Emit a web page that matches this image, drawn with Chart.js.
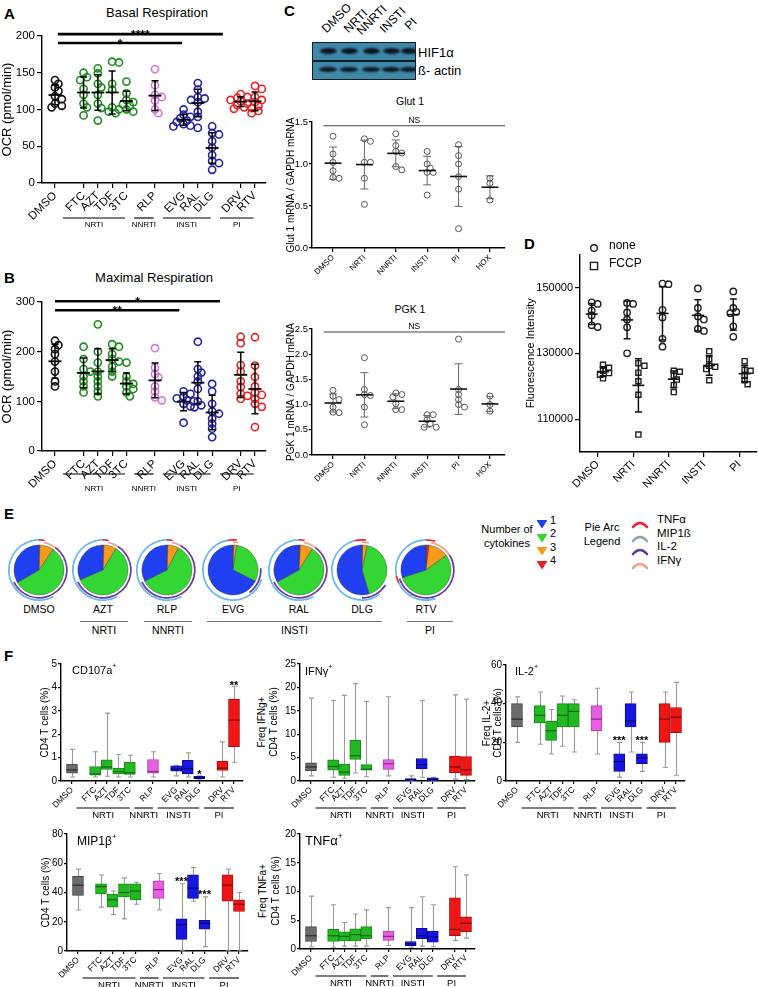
<!DOCTYPE html>
<html><head><meta charset="utf-8"><title>Figure</title>
<script src="https://cdn.jsdelivr.net/npm/chart.js@4.4.1/dist/chart.umd.min.js"></script>
<style>
html,body{margin:0;padding:0;background:#fff;}
body{width:758px;height:987px;position:relative;overflow:hidden;font-family:'Liberation Sans',Arial,Helvetica,sans-serif;color:#000;}
canvas.c{position:absolute;}
.t{position:absolute;white-space:nowrap;line-height:1;}
sup{font-size:65%;vertical-align:top;position:relative;top:-2px;}
</style></head><body>
<script>
// ================= DATA =================
const drugs = ['DMSO','FTC','AZT','TDF','3TC','RLP','EVG','RAL','DLG','DRV','RTV'];
const drugClass = ['DMSO','NRTI','NRTI','NRTI','NRTI','NNRTI','INSTI','INSTI','INSTI','PI','PI'];
const classGroups = ['NRTI','NNRTI','INSTI','PI'];

// Panel A: basal respiration OCR (pmol/min), one array per drug
const basalOCR = [
  [140,135,130,125,118,114,108,105,103],
  [150,144,140,128,120,108,103,92],
  [156,149,135,130,120,108,102,85],
  [165,164,135,127,103,100,97,95],
  [138,122,113,110,107,105,100,97],
  [155,133,120,117,112,100,95],
  [100,93,90,88,85,83,80,78,77],
  [136,127,117,115,113,110,97,90,75],
  [77,68,66,57,48,38,30,27,18],
  [121,117,116,113,111,108,106,103,101],
  [132,128,117,113,110,105,102,98,95]
];
// Panel B: maximal respiration OCR (pmol/min)
const maximalOCR = [
  [222,213,205,195,180,160,140,130],
  [210,185,165,160,150,140,130,118],
  [255,200,178,160,150,140,130,120,110],
  [215,210,195,185,180,170,160,150],
  [178,150,140,135,130,125,118,110],
  [207,168,155,148,130,120,108,102],
  [120,115,110,106,102,100,95,90,57],
  [220,165,158,150,140,125,100,92,88],
  [135,120,95,80,75,65,55,45,28],
  [230,217,173,160,140,129,115,111,105],
  [229,172,149,130,118,113,105,95,89,48]
];
// significance bars (x in slot units, y in data units)
const sigBasal = [{x0:0.2,x1:11.75,y:202.5,text:'****'},{x0:0.2,x1:8.9,y:190.5,text:'*'}];
const sigMaximal = [{x0:0.0,x1:11.55,y:301.5,text:'*'},{x0:0.0,x1:8.7,y:283.5,text:'**'}];

// Panel C
const blotLanes = ['DMSO','NRTI','NNRTI','INSTI','PI'];
const blotRows = ['HIF1\u03b1','\u00df- actin'];
const mrnaGroups = ['DMSO','NRTI','NNRTI','INSTI','PI','HOX'];
const glut1 = [[1.33,1.12,1.02,0.92,0.84,0.83],[1.30,1.27,1.02,1.02,0.83,0.52],[1.36,1.22,1.15,1.13,0.97,0.93],[1.15,1.0,0.95,0.9,0.9,0.63],[1.23,1.1,1.0,0.85,0.7,0.23],[0.83,0.77,0.57]];
const pgk1 = [[1.28,1.17,1.1,0.95,0.85,0.84],[1.93,1.3,1.2,0.95,0.6,1.18],[1.23,1.2,1.15,1.02,0.9,0.9],[0.8,0.8,0.7,0.62,0.55,0.55],[2.3,1.3,1.2,1.1,1.0,0.95],[1.17,1.0,0.87]];
const nsGlut = [{x0:-0.3,x1:5.48,y:1.455,text:'NS'}];
const nsPgk = [{x0:-0.3,x1:5.48,y:2.44,text:'NS'}];

// Panel D
const dGroups = ['DMSO','NRTI','NNRTI','INSTI','PI'];
const dSeries = ['none','FCCP'];
const dNone = [[145500,145000,141500,138500,138000,143000],[145300,145000,142400,140300,137900,130000],[151200,151000,143200,140900,134400,132000],[149700,143800,141200,140300,137400,136800],[148800,143800,142600,138200,135000,142200]];
const dFCCP = [[126500,125600,124700,123500,122400,124000],[127000,126200,124100,121500,117400,105300],[124700,124400,123200,120300,118200,122000],[130600,128200,126200,125900,121800,125200],[127600,125000,124700,123200,121800,120600]];
const dTicks = [110000,130000,150000];

// Panel E: % of cells with 1,2,3,4 cytokines
const pieLabels = ['DMSO','AZT','RLP','EVG','RAL','DLG','RTV'];
const cytokineCounts = ['1','2','3','4'];
const pieShares = [[33.4,57,9,0.6],[31.4,60,8,0.6],[32.4,60,7,0.6],[67.6,30,2,0.4],[33,58,8,1],[54.6,42,3,0.4],[30,55,13,2]];
const arcNames = ['TNF\u03b1','MIP1\u00df','IL-2','IFN\u03b3'];
// arcs: [start%, end%, cytokine index] for outer and inner ring
const pieArcsOuter = [
  [[0,3,0],[42,100,1]],[[0,3,0],[42,100,1]],[[0,3,0],[42,100,1]],[[97,100,0],[0,2,0],[30,97,1]],[[0,3,0],[42,100,1]],[[96,100,0],[0,2,0],[40,96,1]],[[0,5,0],[45,68,1],[68,72,0],[72,100,1]]
];
const pieArcsInner = [
  [[3,10,3],[10,68,2]],[[3,9,3],[9,68,2]],[[3,8,3],[8,68,2]],[[0,3,3],[24,40,2]],[[3,10,3],[10,68,2]],[[0,4,3],[34,50,2]],[[3,16,3],[16,70,2]]
];

// Panel F: box stats [min, q1, median, q3, max] per drug
const cd107a = [[0.17,0.33,0.47,0.72,1.35],[0.17,0.25,0.3,0.62,1.25],[0.2,0.5,0.6,0.9,2.9],[0.17,0.3,0.4,0.55,1.13],[0.17,0.28,0.35,0.8,1.1],[0.17,0.33,0.4,0.92,1.25],[0.22,0.42,0.52,0.65,0.67],[0.17,0.3,0.52,0.88,1.2],[0.08,0.1,0.14,0.2,0.22],[0.17,0.45,0.55,0.85,1.67],[0.8,1.47,2.6,3.5,4.05]];
const ifng = [[1.1,2.2,3.0,3.9,17.7],[0.8,2.3,3.1,4.5,17.2],[0.6,1.2,1.9,3.6,18.3],[1.7,4.6,5.4,8.7,20.8],[0.9,2.3,2.5,3.5,17],[1.1,2.5,3.7,4.6,18],[0.05,0.1,0.3,0.5,1.1],[0.8,2.6,3.5,4.8,17.2],[0.05,0.1,0.3,0.7,0.8],[0.4,1.8,3.0,5.3,18.4],[0.3,1.2,2.4,5.2,17.5]];
const il2 = [[20,28,32,40,43.5],[19,30,34,39,46],[14,21,26,31,37],[18,28,34,40,44],[15,28,36,40,42],[14,26,32,39,48],[2,5,10,14,20],[15,28,31,40,46],[5,9,12,14,20],[7,20,32,40,46],[3,25,33,38,51]];
const mip1b = [[28,38,45,51,56],[30,39,44,46,52],[25,30,35,39,41],[22,37,40,46,50],[32,35,41,46,47],[28,36,42,48,53],[0.5,8,18,22,46],[34,36,43,52,57],[3,15,19,21,37],[0.5,34,45,52,56],[0.5,27,32,35,40]];
const tnfa = [[0.4,1.3,2.3,3.9,9.2],[0.3,1.3,2.3,3.4,7.7],[0.5,1.4,2.2,3.0,4.6],[0.5,1.4,2.5,3.5,6.1],[0.5,1.8,2.3,3.9,6.8],[0.6,1.5,2.2,3.1,7.2],[0.3,0.6,0.9,1.3,7.2],[0.5,1.8,2.3,3.6,9.1],[0.4,1.2,2.1,3.1,7.7],[1.5,2.3,3.4,8.9,14.3],[1.9,3.0,4.5,5.6,12.9]];
const sigCD107a = [{drug:'DLG',y:0.3,text:'*'},{drug:'RTV',y:4.12,text:'**'}];
const sigIFNg = [];
const sigIL2 = [{drug:'EVG',y:21,text:'***'},{drug:'DLG',y:21,text:'***'}];
const sigMIP1b = [{drug:'EVG',y:48,text:'***'},{drug:'DLG',y:39,text:'***'}];
const sigTNFa = [];

// ================= STYLE / HELPERS =================
const FONT = "'Liberation Sans', Arial, Helvetica, sans-serif";
Chart.defaults.font.family = FONT;
Chart.defaults.color = '#000';
Chart.defaults.animation = false;
Chart.defaults.responsive = false;
Chart.defaults.maintainAspectRatio = false;
Chart.defaults.events = [];
Chart.defaults.plugins.legend.display = false;
Chart.defaults.plugins.tooltip.enabled = false;

const scatterColor = {DMSO:'#111111', NRTI:'#1e8c1e', NNRTI:'#d676d6', INSTI:'#23239f', PI:'#e32424'};
const boxFill = {DMSO:'#6b6b6b', NRTI:'#22b822', NNRTI:'#e85ee0', INSTI:'#1616e0', PI:'#f01616'};
const boxEdge = {DMSO:'#454545', NRTI:'#178a17', NNRTI:'#b040b0', INSTI:'#0c0c99', PI:'#a80c0c'};
const boxMed = {DMSO:'#222', NRTI:'#0d5e0d', NNRTI:'#7a2878', INSTI:'#000066', PI:'#700000'};
const cytoColor = ['#1f3ff0','#33d633','#f59a1a','#e52020'];
const arcColor = ['#e8262a','#66b8ea','#6b3a9b','#f2a27e'];
const arcLegendColor = ['#e8262a','#8ea3b8','#6b3a9b','#f2a27e'];

const mean = a => a.reduce((s,v)=>s+v,0)/a.length;
const sd = a => { const m=mean(a); return Math.sqrt(a.reduce((s,v)=>s+(v-m)*(v-m),0)/(a.length-1)); };

function slotsFor(cls){ const s=[]; let p=0; cls.forEach((c,i)=>{ if(i>0) p += (c===cls[i-1]?1:2); s.push(p); }); return s; }
const drugSlots = slotsFor(drugClass);
const slotOf = d => drugSlots[drugs.indexOf(d)];
const groupSpans = classGroups.map(g=>{ const idx=drugClass.map((c,i)=>c===g?i:-1).filter(i=>i>=0); return {name:g, first:drugSlots[idx[0]], last:drugSlots[idx[idx.length-1]]}; });

// deterministic beeswarm offsets (px) for overlapping values
function swarm(vals, pxPerUnit, minDist, step){
  const order = vals.map((v,i)=>i).sort((a,b)=>vals[b]-vals[a]);
  const placed=[]; const off=new Array(vals.length).fill(0);
  for(const i of order){
    const yp = vals[i]*pxPerUnit;
    for(let k=0;k<40;k++){
      const c = (k===0?0:(k%2?1:-1)*Math.ceil(k/2))*step;
      if(placed.every(p=>(p.x-c)*(p.x-c)+(p.y-yp)*(p.y-yp) >= minDist*minDist)){ off[i]=c; placed.push({x:c,y:yp}); break; }
    }
  }
  return off;
}

function addText(html, x, y, size, o){
  o=o||{}; const d=document.createElement('div'); d.className='t'; d.innerHTML=html;
  d.style.left=x+'px'; d.style.top=y+'px'; d.style.fontSize=size+'px';
  let tr='';
  if(o.center) tr+='translateX(-50%) ';
  if(o.vcenter) tr+='translate(-50%,-50%) rotate(-90deg)';
  if(o.rot!==undefined){ d.style.transformOrigin='0 100%'; tr+='rotate('+o.rot+'deg)'; }
  if(tr) d.style.transform=tr;
  if(o.bold) d.style.fontWeight=o.bold;
  if(o.color) d.style.color=o.color;
  document.body.appendChild(d); return d;
}
function addLine(x1,x2,y,color,w){ const d=document.createElement('div'); d.style.cssText='position:absolute;left:'+x1+'px;top:'+y+'px;width:'+(x2-x1)+'px;height:'+(w||1)+'px;background:'+(color||'#666'); document.body.appendChild(d); }
function addSvg(x,y,w,h,inner){ const d=document.createElement('div'); d.style.cssText='position:absolute;left:'+x+'px;top:'+y+'px;width:'+w+'px;height:'+h+'px'; d.innerHTML='<svg width="'+w+'" height="'+h+'" xmlns="http://www.w3.org/2000/svg">'+inner+'</svg>'; document.body.appendChild(d); }

function mk(area, yw, xh, padT, padR, cfg){
  const cv=document.createElement('canvas'); cv.className='c';
  const left=area.l-yw, top=area.t-padT;
  const w=Math.round(area.r-area.l+yw+padR), h=Math.round(area.b-area.t+padT+xh);
  cv.width=w; cv.height=h; cv.style.left=left+'px'; cv.style.top=top+'px'; cv.style.width=w+'px'; cv.style.height=h+'px';
  document.body.appendChild(cv);
  cfg.options=cfg.options||{};
  cfg.options.responsive=false; cfg.options.animation=false; cfg.options.devicePixelRatio=1;
  cfg.options.layout={padding:{top:padT,right:padR,left:0,bottom:0},autoPadding:false};
  cfg.options.scales.x.afterFit=s=>{s.height=xh;};
  cfg.options.scales.y.afterFit=s=>{s.width=yw;};
  return new Chart(cv.getContext('2d'), cfg);
}
function yScale(min,max,step,title,fs,tfs,o){
  o=o||{};
  const sc={type:'linear',min,max,
    ticks:{stepSize:step,font:{size:fs},color:'#000',padding:o.pad!==undefined?o.pad:2, callback:o.cb||(v=>v)},
    grid:{drawOnChartArea:false,color:'#000',lineWidth:1.2,tickLength:o.tl||4},
    border:{color:'#000',width:1.4},
    title:{display:!!title,text:title||'',font:{size:tfs},color:'#000',padding:{top:0,bottom:0}}};
  if(o.ticks) sc.afterBuildTicks=s=>{s.ticks=o.ticks.map(v=>({value:v}));};
  return sc;
}
function xScale(min,max,pos,labels,fs,o){
  o=o||{};
  return {type:'linear',min,max,offset:false,
    afterBuildTicks:s=>{s.ticks=pos.map(v=>({value:v}));},
    ticks:{autoSkip:false,minRotation:45,maxRotation:45,font:{size:fs},color:'#000',padding:o.pad!==undefined?o.pad:1,
      callback:(v)=>{const i=pos.indexOf(v);return i>=0?labels[i]:'';}},
    grid:{drawOnChartArea:false,offset:false,color:'#000',lineWidth:1.2,tickLength:o.tl||4},
    border:{color:'#000',width:1.4}};
}
function meanSDPlugin(o){ return {id:'msd', afterDatasetsDraw(ch){
  const c=ch.ctx,x=ch.scales.x,y=ch.scales.y; c.save();
  ch.data.datasets.forEach(ds=>{ const st=ds.stat; if(!st) return;
    const m=mean(st.vals), s=sd(st.vals), px=x.getPixelForValue(st.x);
    const ym=y.getPixelForValue(m), yt=y.getPixelForValue(m+s), yb=y.getPixelForValue(m-s);
    c.strokeStyle=o.ecolor; c.lineWidth=o.elw; c.beginPath();
    c.moveTo(px,yt); c.lineTo(px,yb);
    c.moveTo(px-o.cw/2,yt); c.lineTo(px+o.cw/2,yt);
    c.moveTo(px-o.cw/2,yb); c.lineTo(px+o.cw/2,yb); c.stroke();
    c.strokeStyle=o.mcolor; c.lineWidth=o.mlw; c.beginPath();
    c.moveTo(px-o.mw/2,ym); c.lineTo(px+o.mw/2,ym); c.stroke();
  }); c.restore(); }}; }
function sigPlugin(items,o){ return {id:'sig', afterDraw(ch){
  const c=ch.ctx,x=ch.scales.x,y=ch.scales.y; c.save();
  c.fillStyle=o.tcolor||'#000'; c.strokeStyle=o.color||'#000'; c.lineWidth=o.lw||1;
  c.textAlign='center'; c.textBaseline='alphabetic'; c.font=(o.bold?'bold ':'')+o.fs+'px '+FONT;
  items.forEach(it=>{ const yy=y.getPixelForValue(it.y);
    if(it.x1!==undefined){ const a=x.getPixelForValue(it.x0), b=x.getPixelForValue(it.x1);
      c.beginPath(); c.moveTo(a,yy); c.lineTo(b,yy); c.stroke();
      if(it.text) c.fillText(it.text,(a+b)/2,yy+(o.dy||0)); }
    else c.fillText(it.text, x.getPixelForValue(slotOf(it.drug)), yy+(o.dy||0));
  }); c.restore(); }}; }
function groupPlugin(spans,o){ return {id:'grp', afterDraw(ch){
  const c=ch.ctx,x=ch.scales.x,b=ch.chartArea.bottom; c.save();
  c.strokeStyle='#000'; c.lineWidth=o.lw||1; c.fillStyle='#000'; c.font=o.fs+'px '+FONT; c.textAlign='center'; c.textBaseline='middle';
  spans.forEach(g=>{ const a=x.getPixelForValue(g.first-o.s0), e=x.getPixelForValue(g.last+o.s1);
    c.beginPath(); c.moveTo(a,b+o.ly); c.lineTo(e,b+o.ly); c.stroke();
    c.fillText(g.name,(a+e)/2,b+o.ty); });
  c.restore(); }}; }
function boxPlugin(stats,pos,cls){ return {id:'boxw',
  beforeDatasetsDraw(ch){ const c=ch.ctx,x=ch.scales.x,y=ch.scales.y; c.save(); c.strokeStyle='#9a9a9a'; c.lineWidth=1.1;
    stats.forEach((s,i)=>{ const px=Math.round(x.getPixelForValue(pos[i]))+0.5, y0=y.getPixelForValue(s[0]), y4=y.getPixelForValue(s[4]);
      c.beginPath(); c.moveTo(px,y0); c.lineTo(px,y4); c.moveTo(px-2.5,y0); c.lineTo(px+2.5,y0); c.moveTo(px-2.5,y4); c.lineTo(px+2.5,y4); c.stroke(); });
    c.restore(); },
  afterDatasetsDraw(ch){ const c=ch.ctx,x=ch.scales.x,y=ch.scales.y; c.save(); c.lineWidth=1.1;
    stats.forEach((s,i)=>{ const px=x.getPixelForValue(pos[i]), ym=y.getPixelForValue(s[2]);
      c.strokeStyle=boxMed[cls[i]]; c.beginPath(); c.moveTo(px-5.5,ym); c.lineTo(px+5.5,ym); c.stroke(); });
    c.restore(); } }; }

// ================= PANEL LETTERS =================
addText('A',4,6,15,{bold:900}); addText('B',4,270,15,{bold:900}); addText('C',284,3,15,{bold:900});
addText('D',524,236,15,{bold:900}); addText('E',4,506,15,{bold:900}); addText('F',4,648,15,{bold:900});

// ================= PANELS A & B =================
function ocrPanel(vals, area, ymax, ystep, sig, title, titleX, titleY, grp){
  const xmin=-0.91, xmax=14.77;
  const slotPx=(area.r-area.l)/(xmax-xmin), pyu=(area.b-area.t)/ymax;
  const ds = vals.map((v,i)=>{ const off=swarm(v,pyu,4.6,3.4); const col=scatterColor[drugClass[i]];
    return {type:'scatter', data:v.map((y,j)=>({x:drugSlots[i]+off[j]/slotPx,y})), pointRadius:3.6, pointBorderWidth:1.6,
      pointBorderColor:col, pointBackgroundColor:'rgba(0,0,0,0)', showLine:false, stat:{x:drugSlots[i],vals:v}}; });
  mk(area, 42, 50, 16, 4, {type:'scatter', data:{datasets:ds}, options:{clip:false, scales:{
      x:xScale(xmin,xmax,drugSlots,drugs,11.5,{tl:5,pad:1}),
      y:yScale(0,ymax,ystep,'OCR (pmol/min)',11.5,13,{tl:5,pad:2})}},
    plugins:[meanSDPlugin({ecolor:'#000',elw:1.5,mcolor:'#000',mlw:1.8,mw:13,cw:7}),
             sigPlugin(sig,{lw:2.6,fs:12,bold:true,dy:5}),
             groupPlugin(groupSpans,{s0:1.45,s1:-0.1,ly:grp[0],ty:grp[1],fs:8,lw:1.2})]});
  addText(title, titleX, titleY, 13, {center:true});
}
ocrPanel(basalOCR,{l:42,t:36,r:266,b:183},200,50,sigBasal,'Basal Respiration',157,6,[35,42]);
ocrPanel(maximalOCR,{l:42,t:302,r:266,b:451},300,100,sigMaximal,'Maximal Respiration',154,271,[23,38]);

// ================= PANEL C: blot =================
(function(){
  const box=document.createElement('div');
  box.style.cssText='position:absolute;left:312px;top:42px;width:104px;height:38px;background:#3f88a8;border:1.5px solid #0f1c26;box-sizing:border-box;overflow:hidden;';
  document.body.appendChild(box);
  const sep=document.createElement('div'); sep.style.cssText='position:absolute;left:0;top:17px;width:100%;height:1.5px;background:#0f1c26;'; box.appendChild(sep);
  const laneX=[15,36,58,78,96];
  blotRows.forEach((r,ri)=>{ laneX.forEach((lx,li)=>{ const b=document.createElement('div');
    const w=ri===0?17:18, h=ri===0?6:5;
    b.style.cssText='position:absolute;left:'+(lx-w/2)+'px;top:'+((ri===0?8:26)-h/2)+'px;width:'+w+'px;height:'+h+'px;background:#0b1622;border-radius:50%;filter:blur(0.8px);';
    box.appendChild(b); });
    addText(r, 418, ri===0?46:64, 13);
  });
  const lp=[[328,35],[350,35],[363,37],[386,35],[411,32]];
  blotLanes.forEach((l,i)=>addText(l, lp[i][0], lp[i][1]-12, 12, {rot:-45}));
})();

// ================= PANEL C: mRNA =================
function mrnaPanel(vals, area, ymax, step, ns, yTitle, title, titleY){
  const xmin=-0.67, xmax=5.48, pos=mrnaGroups.map((g,i)=>i);
  const slotPx=(area.r-area.l)/(xmax-xmin), pyu=(area.b-area.t)/ymax;
  const ds=vals.map((v,i)=>{ const off=swarm(v,pyu,5,3);
    return {type:'scatter', data:v.map((y,j)=>({x:i+off[j]/slotPx,y})), pointRadius:3, pointBorderWidth:1,
      pointBorderColor:'#555', pointBackgroundColor:'rgba(0,0,0,0)', stat:{x:i,vals:v}}; });
  mk(area, 27, 30, 10, 2, {type:'scatter', data:{datasets:ds}, options:{clip:false, scales:{
      x:xScale(xmin,xmax,pos,mrnaGroups,8,{tl:4,pad:1}),
      y:yScale(0,ymax,step,yTitle,9.5,10,{tl:3,pad:1,cb:v=>v.toFixed(1)})}},
    plugins:[meanSDPlugin({ecolor:'#666',elw:1,mcolor:'#111',mlw:1.6,mw:17,cw:8}),
             sigPlugin(ns,{lw:1.1,color:'#444',fs:8.5,dy:-3})]});
  addText(title, 410, titleY, 10.5, {center:true});
}
mrnaPanel(glut1,{l:312,t:122,r:505,b:248},1.5,0.5,nsGlut,'Glut 1 mRNA / GAPDH mRNA','Glut 1',96);
mrnaPanel(pgk1,{l:312,t:329,r:505,b:455},2.5,0.5,nsPgk,'PGK 1 mRNA / GAPDH mRNA','PGK 1',304);

// ================= PANEL D =================
(function(){
  const area={l:580,t:248,r:757,b:452}, xmin=-0.5, xmax=4.5, pos=dGroups.map((g,i)=>i);
  const slotPx=(area.r-area.l)/(xmax-xmin), pyu=(area.b-area.t)/60000;
  const ds=[];
  [dNone,dFCCP].forEach((ser,si)=>{ const dodge=si===0?-0.17:0.15;
    ser.forEach((v,i)=>{ const off=swarm(v,pyu,4.5,3);
      ds.push({type:'scatter', data:v.map((y,j)=>({x:i+dodge+off[j]/slotPx,y})), pointStyle:si===0?'circle':'rect',
        pointRadius:si===0?3.2:3.6, pointBorderWidth:1.4, pointBorderColor:'#222', pointBackgroundColor:'rgba(0,0,0,0)', stat:{x:i+dodge,vals:v}}); }); });
  mk(area, 56, 46, 2, 1, {type:'scatter', data:{datasets:ds}, options:{clip:false, scales:{
      x:xScale(xmin,xmax,pos,dGroups,11,{tl:5,pad:1}),
      y:yScale(100000,160000,20000,'Fluorescence Intensity',11,11,{tl:5,pad:2,ticks:dTicks})}},
    plugins:[meanSDPlugin({ecolor:'#111',elw:1.5,mcolor:'#111',mlw:1.6,mw:12,cw:7})]});
  addSvg(588,240,12,12,'<circle cx="6" cy="6" r="3.3" fill="none" stroke="#222" stroke-width="1.4"/>');
  addSvg(588,258,12,12,'<rect x="2.4" y="2.4" width="7.2" height="7.2" fill="none" stroke="#222" stroke-width="1.4"/>');
  addText(dSeries[0],609,239,12); addText(dSeries[1],609,257,12);
})();

// ================= PANEL E =================
(function(){
  const cx=[39,103,167,233,299,362,426], cy=570, R=31;
  const ringW=[1.7,0.6,1.7,2.0,25];
  function ring(segs){ const data=[],bg=[]; let p=0;
    segs.slice().sort((a,b)=>a[0]-b[0]).forEach(s=>{ if(s[0]>p){data.push(s[0]-p);bg.push('rgba(0,0,0,0)');} data.push(s[1]-s[0]); bg.push(arcColor[s[2]]); p=s[1]; });
    if(p<100){data.push(100-p);bg.push('rgba(0,0,0,0)');} return {data,backgroundColor:bg,borderWidth:0}; }
  pieLabels.forEach((lab,i)=>{
    const cv=document.createElement('canvas'); cv.className='c'; cv.width=2*R; cv.height=2*R;
    cv.style.left=(cx[i]-R)+'px'; cv.style.top=(cy-R)+'px'; cv.style.width=2*R+'px'; cv.style.height=2*R+'px';
    document.body.appendChild(cv);
    const order=[3,2,1,0];
    const ds=[Object.assign(ring(pieArcsOuter[i]),{weight:ringW[0]}), {data:[1],backgroundColor:['rgba(0,0,0,0)'],borderWidth:0,weight:ringW[1]},
      Object.assign(ring(pieArcsInner[i]),{weight:ringW[2]}), {data:[1],backgroundColor:['rgba(0,0,0,0)'],borderWidth:0,weight:ringW[3]},
      {data:order.map(k=>pieShares[i][k]), backgroundColor:order.map(k=>cytoColor[k]), borderWidth:0.6, borderColor:'rgba(60,60,60,0.7)', weight:ringW[4]}];
    new Chart(cv.getContext('2d'),{type:'doughnut',data:{datasets:ds},options:{responsive:false,animation:false,cutout:0,layout:{padding:0},events:[],plugins:{legend:{display:false},tooltip:{enabled:false}}}});
    addText(lab, cx[i], 604, 10.5, {center:true});
  });
  const grp=[['NRTI',80,128],['NNRTI',144,192],['INSTI',207,382],['PI',407,453]];
  grp.forEach(g=>{ addLine(g[1],g[2],621,'#777',1); addText(g[0],(g[1]+g[2])/2,625,10.5,{center:true}); });
  // legend
  addText('Number of',507,524,11,{center:true}); addText('cytokines',507,538,11,{center:true});
  cytokineCounts.forEach((n,k)=>{ const y=520+k*13.5;
    addSvg(536,y-5,12,10,'<path d="M1.5,1.5 L10.5,1.5 L6,8.5 Z" fill="'+cytoColor[k]+'" stroke="'+cytoColor[k]+'" stroke-width="1.2" stroke-linejoin="round"/>');
    addText(n,550,y-5.5,11); });
  addText('Pie Arc',602,522,11,{center:true}); addText('Legend',602,536,11,{center:true});
  arcNames.forEach((n,k)=>{ const y=520+k*13.5;
    addSvg(631,y-5,18,10,'<path d="M2,8 Q9,0 16,8" fill="none" stroke="'+arcLegendColor[k]+'" stroke-width="2.6" stroke-linecap="round"/>');
    addText(n,657,y-6,11.5); });
})();

// ================= PANEL F =================
function boxPanel(stats, area, ymax, step, yTitle, yw, sig, label, lx, ly, lfs, titleXs){
  const dm=11, dr=9, slotPx=(area.r-area.l-dm-dr)/14;
  const xmin=-dm/slotPx, xmax=14+dr/slotPx;
  const multi = Array.isArray(yTitle);
  const ds={data:stats.map((s,i)=>({x:drugSlots[i],y:[s[1],s[3]]})), backgroundColor:drugClass.map(c=>boxFill[c]),
    borderColor:drugClass.map(c=>boxEdge[c]), borderWidth:1, borderSkipped:false, barThickness:11};
  mk(area, yw, 44, 6, 3, {type:'bar', data:{datasets:[ds]}, options:{scales:{
      x:xScale(xmin,xmax,drugSlots,drugs,8.5,{tl:3,pad:1}),
      y:yScale(0,ymax,step,multi?null:yTitle,10,10,{tl:3,pad:1})}},
    plugins:[boxPlugin(stats,drugSlots,drugClass), sigPlugin(sig,{fs:11,bold:true,dy:4}),
             groupPlugin(groupSpans,{s0:1.6,s1:0,ly:27,ty:34,fs:9.5,lw:1.1})]});
  if(multi) yTitle.forEach((t,k)=>addText(t, titleXs[k], (area.t+area.b)/2, 10, {vcenter:true}));
  addText(label, lx, ly, lfs);
}
boxPanel(cd107a,{l:61,t:663,r:243,b:781},5,1,'CD4 T cells (%)',22,sigCD107a,'CD107a<sup>+</sup>',72,665,11);
boxPanel(ifng,{l:300,t:663,r:475,b:781},25,5,['Freq IFNg+','CD4 T cells (%)'],24,sigIFNg,'IFN\u03b3<sup>+</sup>',305,666,11,[262,274]);
boxPanel(il2,{l:506,t:664,r:685,b:781},60,20,['Freq IL-2+','CD4 T cells (%)'],24,sigIL2,'IL-2<sup>+</sup>',515,666,11,[487,498]);
boxPanel(mip1b,{l:67,t:833,r:248,b:951},80,20,'CD4 T cells (%)',27,sigMIP1b,'MIP1\u03b2<sup>+</sup>',77,835,12);
boxPanel(tnfa,{l:300,t:833,r:475,b:949},20,5,['Freq TNFa+','CD4 T cells (%)'],24,sigTNFa,'TNF\u03b1<sup>+</sup>',305,834,13,[263,276]);
</script>
</body></html>
